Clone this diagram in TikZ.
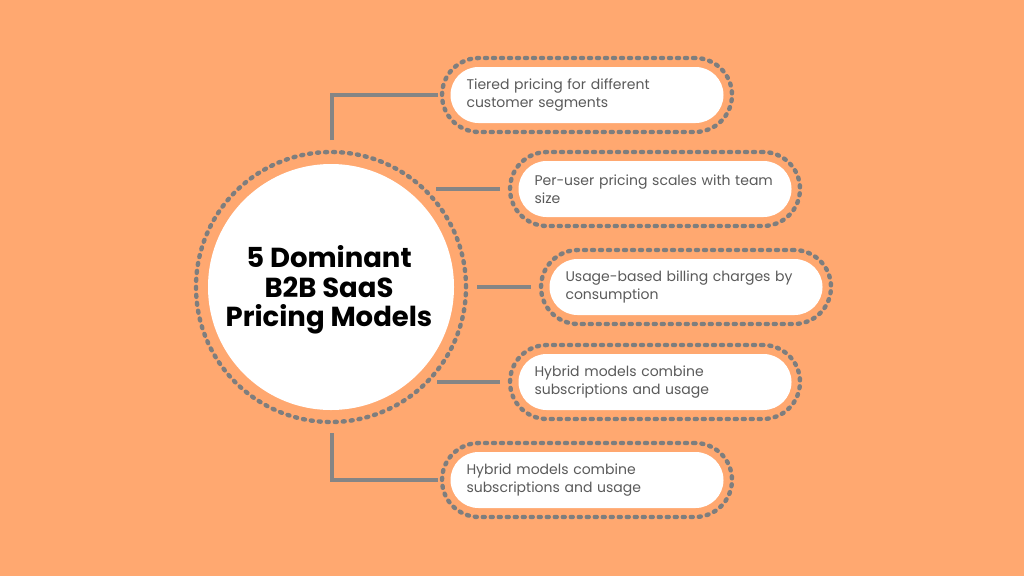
\documentclass[tikz,border=0pt]{standalone}
\usepackage{fontspec}
\setmainfont{Poppins}
\usetikzlibrary{calc}
\definecolor{bgor}{HTML}{FFA870}
\definecolor{dotgray}{HTML}{7E7E7E}
\definecolor{linegray}{HTML}{858585}
\definecolor{txtgray}{HTML}{5A5A5A}
\tikzset{
  dotring/.style={draw=dotgray, line width=4.4pt, line cap=round, dash pattern=on 2pt off 6pt},
  outerbox/.style={dotring, rectangle, rounded corners=37pt, minimum width=290pt, minimum height=74pt, inner sep=0pt},
  innerbox/.style={fill=white, rectangle, rounded corners=28pt, minimum width=273pt, minimum height=56pt, inner sep=0pt,
    text width=241pt, align=left, text=txtgray, font=\fontsize{14}{17.5}\selectfont},
  conn/.style={draw=linegray, line width=4pt}
}
\begin{document}
\begin{tikzpicture}[x=1pt,y=-1pt]
\fill[bgor] (0,0) rectangle (1024,576);
\useasboundingbox (0,0) rectangle (1024,576);
% hub
\node[dotring, circle, minimum size=270pt, inner sep=0pt] (hub) at (331,287) {};
\node[fill=white, circle, minimum size=246pt, inner sep=0pt] (disc) at (331,287) {};
\node[align=center, inner sep=0pt,
  font=\fontsize{27.5}{29.5}\selectfont\bfseries] (title) at (329,290) {5 Dominant\\B2B SaaS\\Pricing Models};
% boxes
\node[outerbox] (b1) at (587,95) {};
\node[innerbox] (t1) at (b1) {Tiered pricing for different\\customer segments};
\node[outerbox] (b2) at (655,189) {};
\node[innerbox] (t2) at (b2) {Per-user pricing scales with team\\size};
\node[outerbox] (b3) at (686,287) {};
\node[innerbox] (t3) at (b3) {Usage-based billing charges by\\consumption};
\node[outerbox] (b4) at (655,382) {};
\node[innerbox] (t4) at (b4) {Hybrid models combine\\subscriptions and usage};
\node[outerbox] (b5) at (587,480) {};
\node[innerbox] (t5) at (b5) {Hybrid models combine\\subscriptions and usage};
% connector start points
\coordinate (s1) at (332,140);
\coordinate (s2) at (436,189);
\coordinate (s3) at (477,287);
\coordinate (s4) at (437,382);
\coordinate (s5) at (332,433);
% connectors
\draw[conn] (s1) -- (s1 |- b1.west) -- ([xshift=-2pt]b1.west);
\draw[conn] (s2) -- ([xshift=-8pt]b2.west);
\draw[conn] (s3) -- ([xshift=-8pt]b3.west);
\draw[conn] (s4) -- ([xshift=-8pt]b4.west);
\draw[conn] (s5) -- (s5 |- b5.west) -- ([xshift=-2pt]b5.west);
\end{tikzpicture}
\end{document}
